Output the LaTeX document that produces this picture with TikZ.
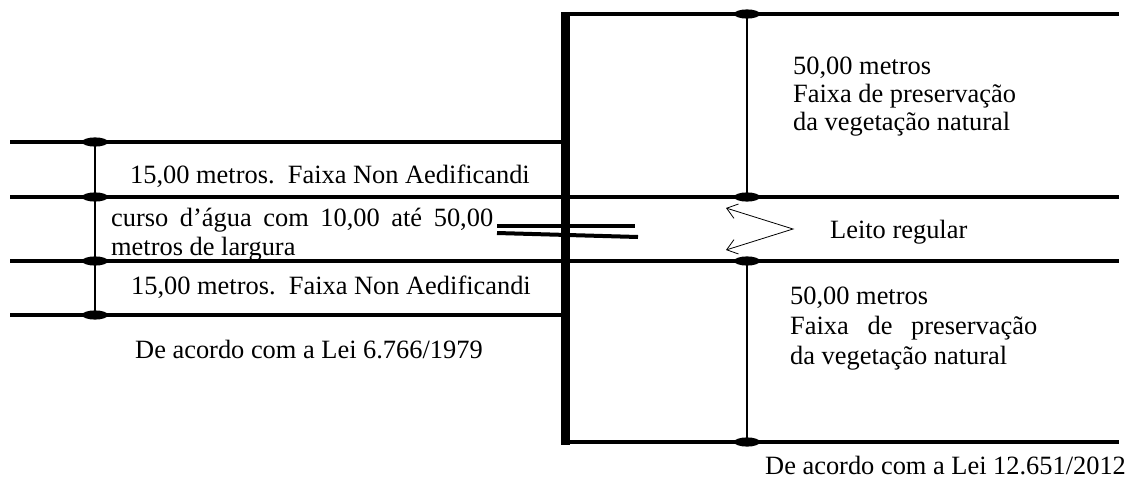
\documentclass[tikz,border=0pt]{standalone}
\usepackage{fontspec}
\setmainfont{Liberation Serif}
\usetikzlibrary{arrows.meta}
\begin{document}
\begin{tikzpicture}[x=1pt,y=-1pt,
  band/.style={line width=4.5pt},
  axis/.style={line width=9pt},
  thinline/.style={line width=1.2pt},
  dotmark/.style={fill=black},
  brk/.style={line width=4pt},
  lbl/.style={anchor=base west, inner sep=0pt, align=left,
    font=\fontsize{26.4}{28}\selectfont},
  barb/.style={line width=0.8pt,
    {Straight Barb[length=10pt,width=15pt]}-{Straight Barb[length=10pt,width=15pt]}}
]
\useasboundingbox (0,0) rectangle (1134,479);

% coordinates
\coordinate (L1a) at (10,142);  \coordinate (L1b) at (563,142);
\coordinate (L2a) at (10,197);  \coordinate (L2b) at (1119,197);
\coordinate (L3a) at (10,261);  \coordinate (L3b) at (1119,261);
\coordinate (L4a) at (10,315);  \coordinate (L4b) at (563,315);
\coordinate (R1a) at (561,14);  \coordinate (R1b) at (1119,14);
\coordinate (R4a) at (561,442); \coordinate (R4b) at (1119,442);
\coordinate (Vt) at (565,12);   \coordinate (Vb) at (565,444.5);

% horizontal bands
\draw[band] (L1a) -- (L1b);
\draw[band] (L2a) -- (L2b);
\draw[band] (L3a) -- (L3b);
\draw[band] (L4a) -- (L4b);
\draw[band] (R1a) -- (R1b);
\draw[band] (R4a) -- (R4b);
% main vertical axis
\draw[axis] (Vt) -- (Vb);

% measuring lines
\coordinate (D1) at (95,142); \coordinate (D2) at (95,197);
\coordinate (D3) at (95,261); \coordinate (D4) at (95,315);
\coordinate (E1) at (747,14); \coordinate (E2) at (747,197);
\coordinate (E3) at (747,261); \coordinate (E4) at (747,442);
\draw[thinline] (D1) -- (D4);
\draw[thinline] (E1) -- (E2);
\draw[thinline] (E3) -- (E4);
\foreach \p in {D1,D2,D3,D4,E1,E2,E3,E4}
  \fill[dotmark] (\p) ellipse [x radius=13pt, y radius=4.6pt];

% break mark
\coordinate (B1a) at (497,226); \coordinate (B1b) at (635,226);
\coordinate (B2a) at (497,233); \coordinate (B2b) at (638,237);
\draw[brk] (B1a) -- (B1b);
\draw[brk] (B2a) -- (B2b);

% arrow
\coordinate (A1) at (726,208); \coordinate (A0) at (793,229); \coordinate (A2) at (726,250);
\draw[barb] (A1) -- (A0) -- (A2);

% labels (multi-line nodes placed at the baseline of their last line)
\node[lbl] (t1) at (130,183) {15,00 metros.\ \ Faixa Non Aedificandi};
\node[lbl, font=\fontsize{26.4}{29}\selectfont] (t2) at (111,255)
  {\makebox[382pt][s]{curso d’água com 10,00 até 50,00}\\metros de largura};
\node[lbl] (t3) at (131,294) {15,00 metros.\ \ Faixa Non Aedificandi};
\node[lbl] (t4) at (135,358) {De acordo com a Lei 6.766/1979};
\node[lbl] (t5) at (793,130) {50,00 metros\\Faixa de preservação\\da vegetação natural};
\node[lbl, font=\fontsize{26.4}{30}\selectfont] (t6) at (790,364)
  {50,00 metros\\\makebox[247pt][s]{Faixa de preservação}\\da vegetação natural};
\node[lbl] (t7) at (830,238) {Leito regular};
\node[lbl] (t8) at (765,474) {De acordo com a Lei 12.651/2012};
\end{tikzpicture}
\end{document}
